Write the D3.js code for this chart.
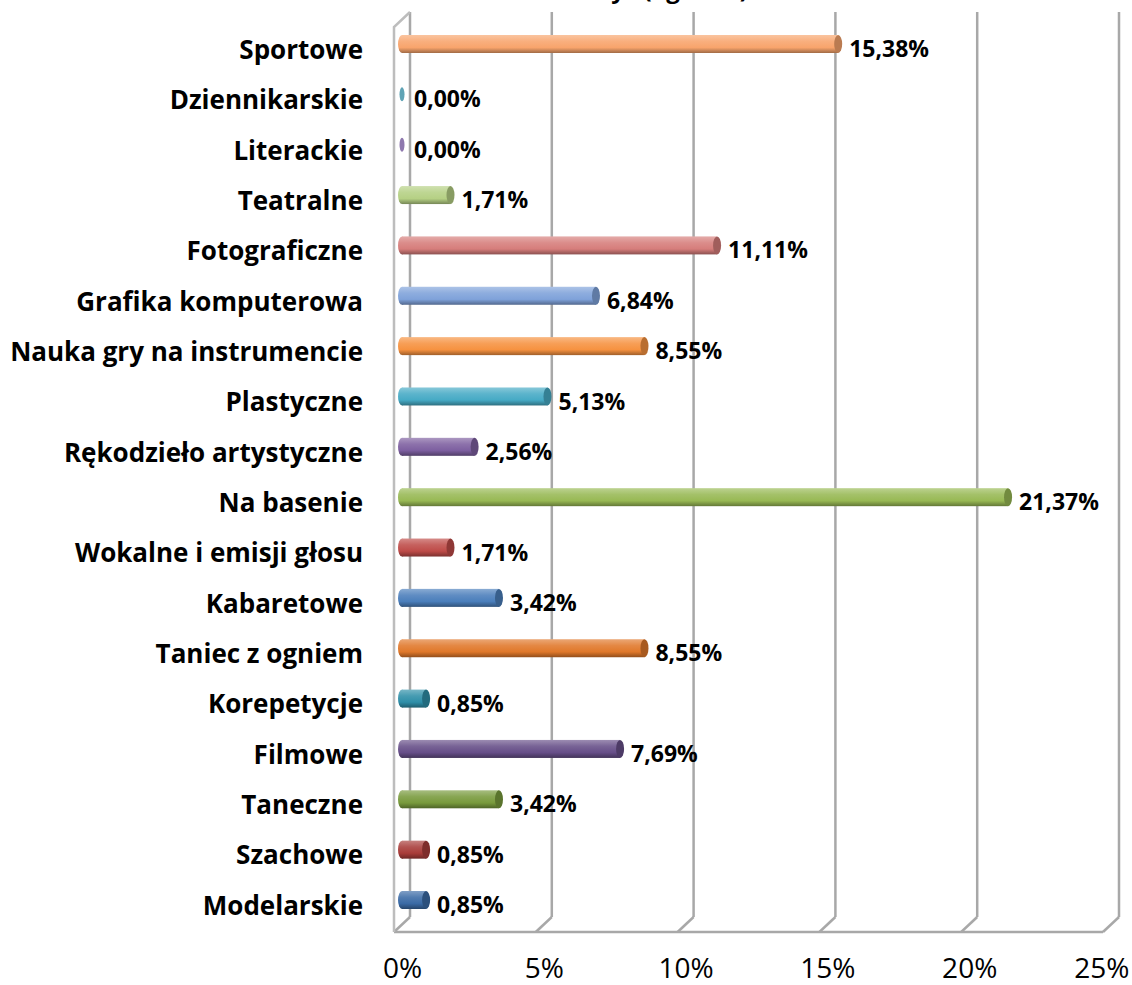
<!DOCTYPE html>
<html>
<head>
<meta charset="utf-8">
<script src="https://cdn.jsdelivr.net/npm/d3@7"></script>
<style>
  body { margin: 0; background: #fff; }
  svg { display: block; }
</style>
</head>
<body>
<div id="chart"></div>
<script>
var categories = [
  "Sportowe", "Dziennikarskie", "Literackie", "Teatralne", "Fotograficzne",
  "Grafika komputerowa", "Nauka gry na instrumencie", "Plastyczne",
  "Rękodzieło artystyczne", "Na basenie", "Wokalne i emisji głosu",
  "Kabaretowe", "Taniec z ogniem", "Korepetycje", "Filmowe", "Taneczne",
  "Szachowe", "Modelarskie"
];
var values = [15.38, 0, 0, 1.71, 11.11, 6.84, 8.55, 5.13, 2.56, 21.37, 1.71, 3.42, 8.55, 0.85, 7.69, 3.42, 0.85, 0.85];
var colors = [
  "#F8A46C", "#5FA3B5", "#8E78AE", "#B5D084", "#D67D7B", "#7FA2DA",
  "#F69240", "#46AAC5", "#7D5FA0", "#98B954", "#BE4B48", "#4A7EBB",
  "#E0782A", "#2E8EA8", "#664E88", "#789A3C", "#A83C39", "#3A6AA5"
];
var ticks = [0, 5, 10, 15, 20, 25];
var tickLabels = ["0%", "5%", "10%", "15%", "20%", "25%"];
var titleText = "uczestniczyć (ogółem)";

var w = 1132, h = 985;
var depthX = 16, depthY = -15;
var floorY = 932, topY = 27;

var svg = d3.select("#chart").append("svg")
  .attr("width", w)
  .attr("height", h)
  .style("font-family", "'Open Sans', sans-serif");

// front, middle (bars) and back planes of the 3D box
var xFront = d3.scaleLinear().domain([0, 25]).range([394, 1103]);
var xMid = d3.scaleLinear().domain([0, 25]).range([402, 1111]);
var xBack = function(v) { return xFront(v) + depthX; };

var y = d3.scalePoint()
  .domain(categories)
  .range([44, 900]);

var defs = svg.append("defs");
colors.forEach(function(c, i) {
  var g = defs.append("linearGradient")
    .attr("id", "bar" + i)
    .attr("x1", 0).attr("y1", 0).attr("x2", 0).attr("y2", 1);
  g.append("stop").attr("offset", "0%").attr("stop-color", d3.interpolateRgb(c, "#fff")(0.35));
  g.append("stop").attr("offset", "35%").attr("stop-color", d3.interpolateRgb(c, "#fff")(0.12));
  g.append("stop").attr("offset", "70%").attr("stop-color", c);
  g.append("stop").attr("offset", "100%").attr("stop-color", d3.interpolateRgb(c, "#000")(0.35));
});

// title (only its bottom edge is inside the picture, as in the original)
svg.append("text")
  .attr("x", 748)
  .attr("y", -2)
  .attr("text-anchor", "end")
  .style("font-size", "24px")
  .style("font-weight", "bold")
  .text(titleText);

// walls and gridlines
var grid = svg.append("g").attr("stroke", "#A8A8A8").attr("stroke-width", 2.5).attr("fill", "none");

grid.selectAll("line.v")
  .data(ticks)
  .enter().append("line")
  .attr("class", "v")
  .attr("x1", function(d) { return xBack(d); })
  .attr("x2", function(d) { return xBack(d); })
  .attr("y1", topY + depthY)
  .attr("y2", floorY + depthY);

grid.selectAll("line.d")
  .data(ticks)
  .enter().append("line")
  .attr("class", "d")
  .attr("x1", function(d) { return xBack(d); })
  .attr("x2", function(d) { return xFront(d); })
  .attr("y1", floorY + depthY)
  .attr("y2", floorY);

grid.append("line")
  .attr("x1", xFront(0)).attr("x2", xFront(25))
  .attr("y1", floorY).attr("y2", floorY);

// left side wall
grid.append("path")
  .attr("stroke", "#BDBDBD")
  .attr("d", "M" + xFront(0) + "," + floorY + "V" + topY + "L" + xBack(0) + "," + (topY + depthY));

// bars (cylinders)
var barH = 18, capRx = 4;
var bars = svg.append("g").selectAll("g")
  .data(values)
  .enter().append("g")
  .attr("transform", function(d, i) { return "translate(0," + y(categories[i]) + ")"; });

bars.each(function(d, i) {
  var g = d3.select(this);
  if (d > 0) {
    g.append("rect")
      .attr("x", xMid(0))
      .attr("y", -barH / 2)
      .attr("width", xMid(d) - xMid(0))
      .attr("height", barH)
      .attr("fill", "url(#bar" + i + ")");
    g.append("ellipse")
      .attr("cx", xMid(0)).attr("cy", 0)
      .attr("rx", capRx).attr("ry", barH / 2)
      .attr("fill", "url(#bar" + i + ")");
    g.append("ellipse")
      .attr("cx", xMid(d)).attr("cy", 0)
      .attr("rx", capRx).attr("ry", barH / 2)
      .attr("fill", d3.interpolateRgb(colors[i], "#000")(0.25));
  } else {
    g.append("ellipse")
      .attr("cx", xMid(0)).attr("cy", 0)
      .attr("rx", 2.5).attr("ry", 7)
      .attr("fill", colors[i]);
  }
});

// value labels
bars.append("text")
  .attr("x", function(d) { return xMid(d) + (d > 0 ? capRx + 7 : 12); })
  .attr("y", 5)
  .attr("dy", "0.35em")
  .style("font-size", "23px")
  .style("font-weight", "bold")
  .text(function(d) { return d.toFixed(2).replace(".", ",") + "%"; });

// category axis
var yAxis = d3.axisLeft(y).tickSize(0).tickPadding(0);
svg.append("g")
  .attr("transform", "translate(363,6)")
  .call(yAxis)
  .call(function(g) { g.select(".domain").remove(); })
  .selectAll("text")
  .style("font-family", "'Open Sans', sans-serif")
  .style("font-size", "26px")
  .style("font-weight", "bold")
  .attr("fill", "#000");

// value axis
var xAxis = d3.axisBottom(xFront)
  .tickValues(ticks)
  .tickSize(0)
  .tickPadding(0)
  .tickFormat(function(d, i) { return tickLabels[i]; });
var xg = svg.append("g")
  .attr("transform", "translate(" + depthX / 2 + ",958)")
  .call(xAxis)
  .call(function(g) { g.select(".domain").remove(); });
xg.selectAll("text")
  .style("font-family", "'Open Sans', sans-serif")
  .style("font-size", "28px")
  .attr("fill", "#000");
xg.selectAll(".tick").filter(function(d) { return d === 25; })
  .select("text")
  .attr("text-anchor", "end")
  .attr("x", 1129 - xFront(25) - depthX / 2);
</script>
</body>
</html>
